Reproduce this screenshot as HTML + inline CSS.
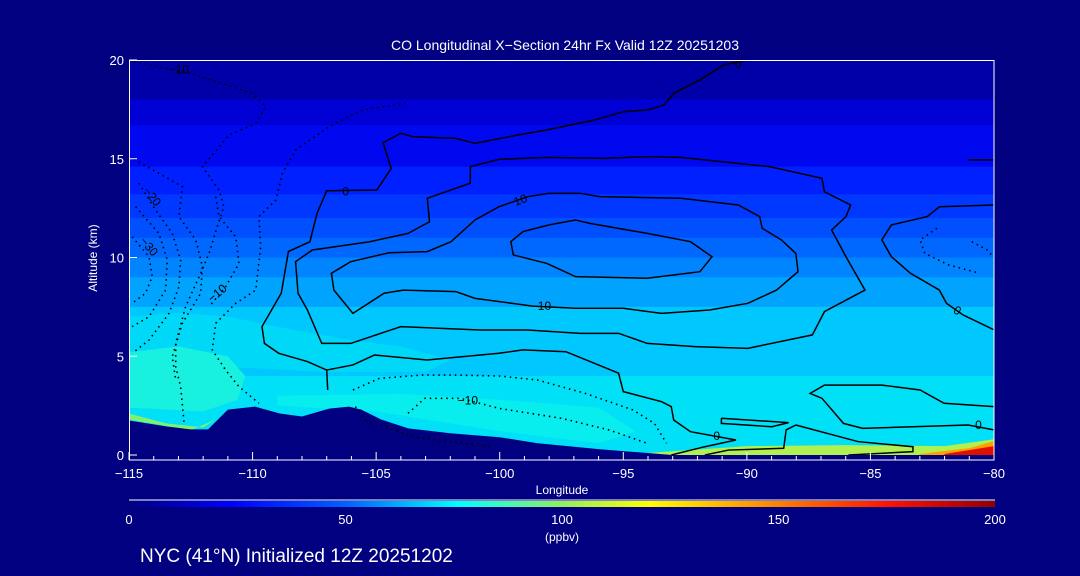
<!DOCTYPE html>
<html><head><meta charset="utf-8"><style>
html,body{margin:0;padding:0;background:#000080;width:1080px;height:576px;overflow:hidden}
svg text{font-family:"Liberation Sans",sans-serif;fill:#fff}
</style></head><body>
<svg id="chart" width="1080" height="576" viewBox="0 0 1080 576" xmlns="http://www.w3.org/2000/svg">
<defs>
<linearGradient id="cbar" x1="0" x2="1" y1="0" y2="0">
<stop offset="0" stop-color="#000080"/><stop offset="0.12" stop-color="#0000ff"/>
<stop offset="0.25" stop-color="#0060ff"/><stop offset="0.38" stop-color="#00ffff"/>
<stop offset="0.5" stop-color="#90f060"/><stop offset="0.6" stop-color="#ffff00"/>
<stop offset="0.75" stop-color="#ff8000"/><stop offset="0.88" stop-color="#ff1000"/>
<stop offset="1" stop-color="#900000"/></linearGradient>
<clipPath id="plotclip"><rect x="129" y="60" width="865" height="395"/></clipPath>
</defs>
<text x="565" y="50" font-size="14" text-anchor="middle">CO Longitudinal X−Section 24hr  Fx Valid 12Z 20251203</text>
<g id="plot" clip-path="url(#plotclip)"></g>
<g id="axes"></g>
<text x="97" y="258" font-size="12" text-anchor="middle" transform="rotate(-90 97 258)">Altitude (km)</text>
<text x="562" y="494" font-size="12" text-anchor="middle">Longitude</text>
<line x1="129" x2="995" y1="500" y2="500" stroke="#fff" stroke-width="1"/>
<rect x="129" y="501" width="866" height="6" fill="url(#cbar)"/>
<g id="cbticks"></g>
<text x="562" y="541" font-size="12" text-anchor="middle">(ppbv)</text>
<text x="140" y="562" font-size="19">NYC (41°N) Initialized 12Z 20251202</text>
</svg>
<script>
const xTicks=[-115,-110,-105,-100,-95,-90,-85,-80];
const yTicks=[0,5,10,15,20];
const cbTicks=[0,50,100,150,200];
// altitude bands
const bandBottoms=[18,16.7,14.6,13.2,12,11,10,9,7.5,4,0];
const bandTops=[20,18,16.7,14.6,13.2,12,11,10,9,7.5,4];
const bandColors=["#0000a8","#0000d4","#0008f0","#0020ff","#0038ff","#0050ff","#0068ff","#0084ff","#00a4ff","#00c8ff","#00e0f6"];
// extra CO regions (lon, alt)
const regLight1Lon=[-115,-113,-111,-109,-106,-104,-102,-103,-107,-110,-115];
const regLight1Alt=[7,7.2,7.0,6.5,5.8,5.5,4.8,4.2,4.2,4.4,4.5];
const regAquaLon=[-115,-113,-111,-110.3,-110.6,-112,-115];
const regAquaAlt=[5.2,5.5,5.0,4.0,2.8,2.2,2.4];
const regGreenLon=[-115,-113.5,-112,-111.5,-112.5,-115];
const regGreenAlt=[2.1,1.6,1.4,1.8,1.25,1.8];
const regCyanLon=[-109,-104,-100,-96,-94.5,-96,-100,-105,-109];
const regCyanAlt=[3.0,3.1,2.8,2.4,1.2,0.6,1.2,2.2,2.5];
const regYellowLon=[-94,-90,-86,-82,-80,-80,-94];
const regYellowAlt=[0.1,0.45,0.5,0.45,0.8,0,0];
const regOrangeLon=[-83,-81,-80,-80,-83];
const regOrangeAlt=[0.05,0.35,0.7,0,0];
const regRedLon=[-82,-80,-80,-82];
const regRedAlt=[0.05,0.45,0,0];
// terrain profile
const terrLon=[-115,-113.5,-112.5,-111.8,-111.4,-111,-109.9,-108.9,-108,-106.9,-106.1,-105.6,-104.8,-103.7,-102,-100,-98.5,-96,-93,-80];
const terrAlt=[1.75,1.45,1.3,1.3,1.8,2.3,2.45,2.1,1.95,2.35,2.45,2.3,1.8,1.35,1.1,0.9,0.6,0.3,0,0];
// solid contours
const c20Lon=[-99.06,-98.0,-96.93,-96.35,-94.03,-92.28,-91.41,-91.90,-94.03,-96.93,-98.09,-99.45,-99.55,-99.06];
const c20Alt=[11.31,11.65,11.90,11.73,11.22,10.80,10.04,9.28,8.95,9.03,9.70,10.13,10.80,11.31];
const c10Lon=[-98.87,-98.0,-96.74,-95.96,-92.67,-90.35,-89.48,-89.38,-88.60,-88.02,-87.93,-88.80,-89.96,-91.51,-93.45,-95.0,-96.93,-98.67,-101.0,-101.77,-103.90,-104.68,-105.94,-106.71,-106.81,-106.03,-104.48,-102.93,-101.97,-101.0,-100.03,-98.87];
const c10Alt=[13.08,13.25,13.25,13.08,13.0,12.66,12.07,11.48,10.89,10.21,9.28,8.35,7.68,7.34,7.17,7.43,7.43,7.54,7.93,8.27,8.35,8.19,7.17,8.35,9.20,9.79,10.24,10.30,10.80,11.90,12.57,13.08];
const c5Lon=[-101.19,-100.03,-98.09,-95.77,-94.03,-92.67,-89.09,-86.96,-86.86,-85.80,-85.99,-86.57,-85.99,-85.22,-86.86,-87.35,-89.96,-92.09,-94.03,-95.19,-96.74,-98.87,-100.80,-104.0,-106.03,-107.2,-107.78,-108.16,-108.26,-107.58,-105.26,-103.71,-102.84,-102.93,-101.19,-101.19];
const c5Alt=[14.60,14.97,15.07,15.02,15.11,15.07,14.60,14.01,13.33,12.66,12.07,11.39,10.04,8.35,7.26,6.08,5.40,5.49,5.65,6.16,6.16,6.33,6.33,6.50,5.65,5.65,7.34,8.19,9.79,10.38,10.80,11.22,11.81,13.0,13.76,14.60];
const c0Lon=[-89.96,-90.93,-91.90,-92.96,-93.35,-94.03,-95.0,-96.16,-98.09,-99.26,-101.0,-101.77,-103.52,-104.0,-104.72,-104.39,-104.97,-107.0,-107.39,-107.68,-108.55,-108.84,-109.62,-109.52,-108.94,-107.78,-107.0,-106.96];
const c0Alt=[20,19.75,18.99,18.31,17.72,17.47,17.38,16.96,16.46,16.20,15.78,16.03,16.12,16.29,15.81,14.51,13.42,13.38,12.24,10.80,10.30,8.19,6.50,5.65,5.15,4.73,4.30,3.29];
const c0sLon=[-107.0,-105.94,-105.07,-102.94,-100.03,-99.06,-97.32,-95.19,-95.0,-93.45,-93.06,-92.96,-92.28,-90.44,-91.7,-93.06];
const c0sAlt=[4.30,4.56,5.06,4.81,5.15,5.32,5.23,4.14,3.21,2.70,2.45,1.77,1.18,0.76,0.42,0.0];
const cRLon=[-79.99,-82.21,-82.70,-84.15,-84.54,-84.15,-83.38,-82.21,-81.92,-81.25,-79.99];
const cRAlt=[12.66,12.57,12.07,11.65,10.89,10.04,9.20,8.35,7.68,7.09,6.33];
const cTopRLon=[-81.05,-80];const cTopRAlt=[14.94,14.94];
const c0bLon=[-79.99,-82.02,-82.99,-84.54,-86.86,-87.44,-86.96,-86.09,-85.31,-81.05,-79.99];
const c0bAlt=[2.45,2.62,3.29,3.54,3.54,3.12,2.87,1.60,1.35,1.52,1.27];
const cLoopLon=[-91.03,-88.31,-88.99,-91.03,-91.03];const cLoopAlt=[1.86,1.64,1.43,1.60,1.86];
const cSurfLon=[-88.02,-88.41,-88.51,-90.74,-91.70];const cSurfAlt=[1.52,1.27,0.34,0.25,0.0];
const cSurf2Lon=[-88.02,-85.51,-83.28,-83.28,-85.89];const cSurf2Alt=[1.52,0.68,0.42,0.17,0.0];
// dotted (negative) contours
const dotLons=[[-114.80,-112.30,-110.01,-109.47,-109.87,-110.95,-112.03,-111.36,-111.16,-111.43,-111.76,-112.10,-112.71,-113.11,-113.11,-112.91,-112.77],
[-103.80,-105.56,-106.91,-108.26,-108.79,-109.06,-109.74,-109.67,-109.87,-110.68,-111.49,-111.63,-111.09,-110.55,-109.74],
[-115,-112.84,-112.98,-112.30,-112.03,-112.10,-112.84,-113.25,-113.11],
[-111.49,-111.36,-110.68,-110.55,-111.09,-111.76],
[-114.60,-113.92,-113.25,-112.91,-112.98,-113.38,-114.19,-114.87],
[-114.73,-113.79,-113.45,-113.52,-114.19,-114.87],
[-114.87,-114.19,-114.06,-114.33,-114.87],
[-105.94,-104.87,-103.13,-101.97,-100.03,-98.48,-96.54,-94.61,-93.74,-93.25],
[-103.71,-103.03,-101.58,-100.03,-97.51,-95.58,-94.03],
[-105.84,-105.45,-103.52,-100.42],
[-82.31,-82.99,-82.80,-81.83,-80.57],
[-80.9,-80.3,-80]];
const dotAlts=[[19.92,19.24,18.31,17.64,16.79,16.20,14.60,13.42,12.57,11.56,10.21,9.20,7.51,5.65,4.47,3.46,1.60],
[17.81,17.47,16.62,15.44,14.26,12.91,12.07,10.55,8.35,7.68,6.67,5.32,4.30,3.46,2.62],
[15.11,13.59,12.07,10.89,9.54,8.19,6.67,4.98,3.80],
[13.08,12.07,11.05,9.70,8.52,7.51],
[13.76,12.40,11.22,9.87,8.52,7.17,5.82,5.15],
[12.57,11.22,9.87,8.35,7.0,6.50],
[11.05,10.04,9.03,8.19,7.68],
[3.29,3.88,4.05,4.05,4.0,3.80,3.12,2.28,1.60,0.59],
[2.11,2.87,2.87,2.36,1.86,1.27,0.59],
[2.45,1.77,0.93,0.42],
[11.48,10.89,10.21,9.62,9.20],
[10.8,10.4,10.0]];
const labelText=["10","10","0","0","0","0","−10","−10","−20","−30","0","−10"];
const labelLon=[-99.16,-98.19,-106.23,-90.35,-91.22,-81.48,-112.98,-111.43,-114.06,-114.19,-80.63,-101.29];
const labelAlt=[12.91,7.54,13.33,19.8,0.96,7.31,19.53,8.19,13.08,10.55,1.52,2.75];
const labelRot=[-20,0,0,0,0,30,0,-40,50,50,0,0];

const X=l=>129+(l+115)/35*865, Y=a=>455-a*19.75;
const NS="http://www.w3.org/2000/svg";
const plot=document.getElementById('plot'), axes=document.getElementById('axes');
function mk(tag,at,parent){const e=document.createElementNS(NS,tag);for(const k in at)e.setAttribute(k,at[k]);parent.appendChild(e);return e;}
for(let i=0;i<bandColors.length;i++){
 const r=mk('rect',{x:129,y:Y(bandTops[i]),width:865,height:Y(bandBottoms[i])-Y(bandTops[i])+0.5,fill:bandColors[i]},plot);
 
 
}
function poly(lons,alts,fill){const pts=lons.map((l,i)=>X(l)+','+Y(alts[i])).join(' ');
 const p=mk('polygon',{points:pts,fill:fill},plot);
 
 }
poly(regLight1Lon,regLight1Alt,"#00d8f8");
poly(regCyanLon,regCyanAlt,"#08eeee");
poly(regAquaLon,regAquaAlt,"#18f0e0");
poly(regGreenLon,regGreenAlt,"#80f070");
poly(regYellowLon,regYellowAlt,"#b0f050");
poly(regOrangeLon,regOrangeAlt,"#ffa000");
poly(regRedLon,regRedAlt,"#e01000");
let td=`M${X(-115)},460 `+terrLon.map((l,i)=>`L${X(l)},${Y(terrAlt[i])}`).join(' ')+` L${X(-80)},460Z`;
const terr=mk('path',{d:td,fill:"#000080"},plot);


function line(lons,alts,dash,name){const pts=lons.map((l,i)=>X(l)+','+Y(alts[i])).join(' ');
 const p=mk('polyline',{points:pts,fill:'none',stroke:'#000','stroke-width':dash?1.6:1.5,'stroke-dasharray':dash?'1.5,4':'none'},plot);
 
 }
line(c20Lon,c20Alt,false,'contour-20');line(c10Lon,c10Alt,false,'contour-10');line(c5Lon,c5Alt,false,'contour-5');
line(c0Lon,c0Alt,false,'contour-0');line(c0sLon,c0sAlt,false,'contour-0-south');
line(cRLon,cRAlt,false,'contour-0-right');line(cTopRLon,cTopRAlt,false,'contour-0-top-right');
line(c0bLon,c0bAlt,false,'contour-0-east');line(cLoopLon,cLoopAlt,false,'contour-0-loop');
line(cSurfLon,cSurfAlt,false,'contour-0-surface');line(cSurf2Lon,cSurf2Alt,false,'contour-0-surface-east');
dotLons.forEach((d,i)=>line(d,dotAlts[i],true,'contour-negative'));
labelText.forEach((t,i)=>{
 const x=X(labelLon[i]),y=Y(labelAlt[i]);
 const e=mk('text',{x:x,y:y+4,'font-size':12,'text-anchor':'middle',style:'fill:#000',transform:`rotate(${labelRot[i]} ${x} ${y})`},plot);e.textContent=t;
 
 });
const fr=mk('rect',{x:129.5,y:60.5,width:864.5,height:399.5,fill:'none',stroke:'#fff','stroke-width':1},axes);


for(let l=-115;l<=-80;l++){const big=l%5===0;mk('line',{x1:X(l),x2:X(l),y1:460,y2:big?452:456,stroke:'#fff'},axes);}
xTicks.forEach(t=>{const e=mk('text',{x:X(t),y:478,'font-size':13,'text-anchor':'middle'},axes);e.textContent=(t<0?'−':'')+Math.abs(t);
 
 });
yTicks.forEach(t=>{mk('line',{x1:129,x2:137,y1:Y(t),y2:Y(t),stroke:'#fff'},axes);
 const e=mk('text',{x:124,y:Y(t)+5,'font-size':13,'text-anchor':'end'},axes);e.textContent=t;
 
 });
cbTicks.forEach(t=>{const e=mk('text',{x:129+t/200*866,y:524,'font-size':13,'text-anchor':'middle'},document.getElementById('cbticks'));e.textContent=t;
 
 });
</script>
</body></html>
